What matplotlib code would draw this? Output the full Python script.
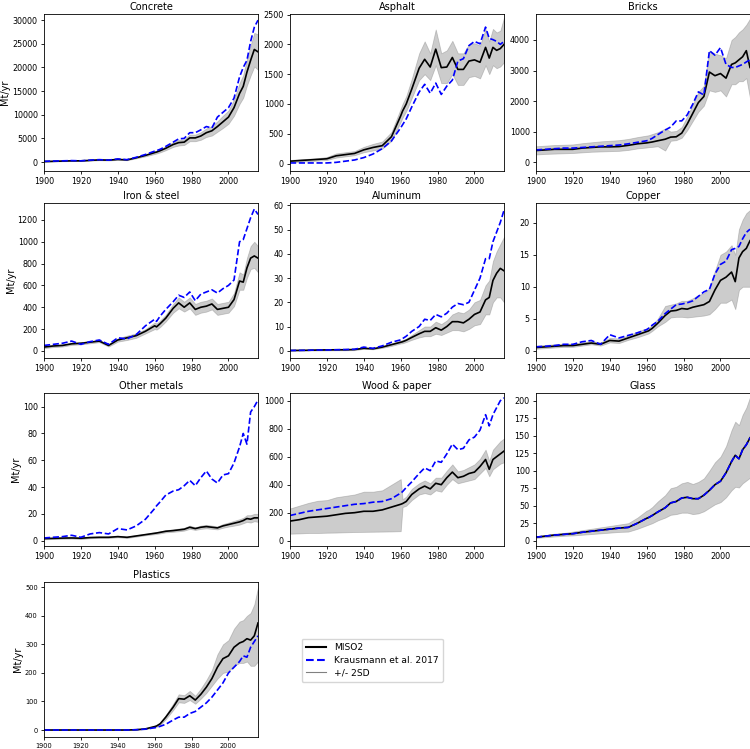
import matplotlib
matplotlib.use('Agg')
import matplotlib.pyplot as plt
from matplotlib.lines import Line2D

# years shared by all series
years = [1900, 1905, 1910, 1915, 1920, 1925, 1930, 1935, 1940, 1945, 1950, 1955,
         1960, 1961, 1963, 1966, 1970, 1973, 1976, 1979, 1982, 1985, 1988, 1991,
         1994, 1997, 2000, 2003, 2006, 2008, 2010, 2012, 2014, 2016]

concrete_miso = [100, 150, 200, 250, 250, 350, 450, 400, 550, 450, 900, 1400, 2000, 2100, 2400, 2900, 3700,
                 4100, 4200, 5100, 5100, 5500, 6200, 6600, 7500, 8500, 9500, 11500, 14500, 16000, 19000,
                 21500, 23800, 23300]
concrete_kr = [150, 200, 250, 300, 250, 400, 500, 400, 650, 500, 1000, 1600, 2300, 2400, 2700, 3300, 4200,
               4900, 5000, 6200, 6200, 6800, 7500, 7200, 9500, 10500, 11500, 13500, 18000, 20000, 21500,
               25500, 28500, 30000]
concrete_lo = [80, 120, 170, 200, 200, 280, 380, 330, 450, 380, 780, 1200, 1700, 1800, 2050, 2500, 3200,
               3500, 3600, 4400, 4400, 4700, 5300, 5600, 6400, 7200, 8100, 9800, 12300, 13600, 16200,
               18300, 20200, 19500]
concrete_hi = [120, 180, 230, 300, 300, 420, 520, 470, 650, 520, 1020, 1600, 2300, 2400, 2750, 3300, 4200,
               4700, 4800, 5800, 5800, 6300, 7100, 7600, 8600, 9800, 10900, 13200, 16700, 18400, 21800,
               24700, 27300, 27000]

asphalt_miso = [40, 50, 60, 70, 80, 130, 150, 170, 230, 270, 300, 450, 800, 880, 1000, 1250, 1600, 1750,
                1620, 1920, 1610, 1620, 1780, 1580, 1580, 1720, 1740, 1700, 1950, 1770, 1950, 1900, 1930, 2000]
asphalt_kr = [10, 10, 10, 10, 10, 20, 40, 60, 100, 160, 250, 380, 600, 650, 750, 950, 1200, 1330, 1180,
              1350, 1160, 1300, 1400, 1720, 1760, 1980, 2050, 2010, 2290, 2100, 2080, 2050, 2000, 2050]
asphalt_lo = [20, 30, 40, 50, 60, 100, 120, 140, 190, 220, 250, 380, 700, 770, 880, 1100, 1400, 1500, 1400,
              1650, 1350, 1350, 1500, 1320, 1320, 1450, 1470, 1430, 1650, 1500, 1650, 1600, 1630, 1700]
asphalt_hi = [60, 70, 80, 90, 110, 170, 190, 210, 280, 330, 370, 530, 920, 1000, 1130, 1420, 1850, 2050,
              1850, 2250, 1850, 1900, 2060, 1850, 1850, 2000, 2020, 1980, 2260, 2050, 2260, 2200, 2230, 2450]

bricks_miso = [380, 400, 420, 420, 420, 460, 480, 500, 500, 510, 550, 600, 630, 640, 660, 700, 750, 820,
               830, 950, 1250, 1600, 1950, 2150, 2950, 2830, 2900, 2750, 3200, 3250, 3350, 3450, 3650, 3100]
bricks_kr = [400, 420, 440, 460, 460, 480, 500, 520, 540, 560, 600, 650, 700, 720, 780, 900, 1050, 1150,
             1350, 1350, 1550, 1900, 2300, 2200, 3650, 3500, 3750, 3200, 3100, 3100, 3150, 3200, 3280, 3350]
bricks_lo = [250, 270, 280, 290, 300, 320, 340, 350, 360, 370, 400, 450, 480, 490, 500, 520, 380, 700,
             720, 800, 1050, 1350, 1650, 1850, 2350, 2300, 2350, 2150, 2550, 2550, 2650, 2650, 2750, 2100]
bricks_hi = [520, 540, 560, 570, 580, 620, 650, 680, 700, 720, 760, 820, 870, 880, 920, 980, 1100, 1000,
             1020, 1150, 1500, 1900, 2300, 2500, 3650, 3550, 3500, 3400, 4000, 4100, 4250, 4350, 4500, 4700]

iron_miso = [35, 45, 50, 65, 70, 80, 90, 50, 100, 120, 140, 180, 230, 220, 250, 300, 390, 440, 400, 440,
             380, 400, 410, 430, 380, 390, 400, 470, 640, 630, 760, 850, 870, 850]
iron_kr = [50, 60, 70, 90, 60, 85, 100, 60, 120, 110, 150, 230, 290, 270, 320, 380, 450, 510, 490, 540,
           460, 520, 540, 560, 530, 570, 600, 650, 1000, 1020, 1120, 1220, 1300, 1250]
iron_lo = [25, 35, 40, 55, 60, 70, 80, 40, 85, 100, 120, 160, 200, 195, 220, 270, 350, 390, 360, 390,
           330, 350, 360, 380, 330, 340, 350, 410, 560, 560, 670, 750, 760, 720]
iron_hi = [45, 55, 60, 75, 80, 90, 100, 60, 115, 140, 160, 200, 260, 250, 280, 330, 430, 490, 450, 490,
           430, 450, 460, 480, 430, 440, 450, 530, 720, 700, 850, 960, 1000, 960]

alu_miso = [0.1, 0.15, 0.2, 0.3, 0.35, 0.4, 0.4, 0.5, 1.0, 0.8, 1.5, 2.5, 3.5, 3.7, 4.3, 5.5, 7, 8, 8,
            9.5, 8.5, 10, 12, 12, 11.5, 13, 15, 16, 21, 22, 29, 32, 34, 33]
alu_kr = [0.1, 0.15, 0.2, 0.3, 0.3, 0.4, 0.5, 0.6, 1.5, 1.0, 2, 3.5, 4.5, 5, 6, 8, 10, 13, 12.5, 15, 14,
          15.5, 18, 19.5, 19, 20, 25, 30, 38, 38, 45, 49, 53, 58]
alu_lo = [0.05, 0.08, 0.1, 0.12, 0.15, 0.2, 0.2, 0.25, 0.8, 0.6, 1.2, 2, 3, 3.1, 3.6, 4.5, 5.5, 6, 6, 7,
          6.5, 7.5, 8.5, 8.5, 8, 9, 10.5, 11, 15, 15, 20, 22, 22, 20]
alu_hi = [0.2, 0.25, 0.35, 0.45, 0.5, 0.6, 0.6, 0.7, 1.3, 1.0, 1.8, 3, 4.2, 4.4, 5, 6.5, 8.5, 10, 10, 12,
          11, 12.5, 15, 16, 15.5, 17, 20, 21, 27, 29, 37, 41, 44, 47]

copper_miso = [0.5, 0.6, 0.7, 0.8, 0.8, 1.0, 1.2, 1.0, 1.6, 1.5, 2.0, 2.5, 3.0, 3.1, 3.5, 4.3, 5.5, 6.2,
               6.3, 6.6, 6.5, 6.8, 7.0, 7.2, 7.7, 9.5, 11, 11.5, 12.3, 10.8, 14.5, 15.5, 16, 17.2]
copper_kr = [0.6, 0.7, 0.8, 1.0, 1.0, 1.4, 1.6, 1.0, 2.5, 2.0, 2.4, 2.8, 3.3, 3.5, 4.0, 4.6, 5.8, 6.5,
             7.2, 7.3, 7.5, 7.8, 8.5, 9.2, 9.6, 12, 13.5, 14, 15.8, 16, 16.3, 17.5, 18.5, 19]
copper_lo = [0.3, 0.4, 0.5, 0.6, 0.6, 0.8, 1.0, 0.8, 1.3, 1.2, 1.7, 2.1, 2.6, 2.7, 3.1, 3.8, 4.5, 5.2,
             5.3, 5.3, 5.2, 5.3, 5.4, 5.5, 5.7, 6.5, 7.5, 7.5, 8, 6.5, 9.5, 10, 10, 10]
copper_hi = [0.8, 0.9, 1.0, 1.1, 1.1, 1.3, 1.5, 1.3, 2.0, 1.9, 2.4, 3, 3.5, 3.6, 4, 5, 7, 7.2, 7.4, 7.8,
             7.8, 8.2, 8.7, 9, 9.8, 12.5, 15, 15.5, 16.5, 15, 19, 20.5, 21.5, 22]

other_miso = [1.5, 1.7, 1.9, 2.0, 1.8, 2.3, 2.5, 2.5, 3.0, 2.5, 3.5, 4.5, 5.5, 5.7, 6.2, 7, 7.5, 8, 8.5,
              10, 9, 10, 10.5, 10, 9.5, 11, 12, 13, 14, 15, 16.5, 16, 17, 17]
other_kr = [2, 2.5, 3, 4, 2.5, 5, 6, 5, 9, 8, 11, 16, 24, 26, 29, 34, 37, 38, 41, 45, 41, 47, 52, 46, 43,
            49, 50, 58, 70, 80, 72, 96, 100, 105]
other_lo = [1, 1.2, 1.4, 1.5, 1.2, 1.8, 2, 2, 2.5, 2, 3, 4, 4.8, 5, 5.4, 6.2, 6.6, 7, 7.5, 8.8, 8, 8.8,
            9.2, 8.8, 8.4, 9.6, 10.5, 11.2, 12, 13, 14, 13.5, 14.5, 14]
other_hi = [2, 2.2, 2.4, 2.6, 2.3, 2.8, 3, 3, 3.6, 3, 4, 5, 6.2, 6.4, 7, 7.8, 8.4, 9, 9.6, 11.2, 10, 11.2,
            11.8, 11.2, 10.6, 12.4, 13.5, 14.8, 16, 17, 19, 19, 20, 20]

wood_miso = [140, 150, 165, 170, 175, 185, 195, 200, 210, 210, 220, 240, 260, 265, 280, 330, 370, 390,
             370, 410, 400, 450, 490, 450, 460, 480, 490, 530, 580, 510, 580, 600, 620, 640]
wood_kr = [180, 195, 210, 220, 230, 240, 250, 260, 265, 275, 280, 300, 340, 350, 380, 420, 480, 520, 500,
           570, 560, 620, 690, 650, 660, 720, 740, 790, 900, 820, 900, 950, 1000, 1020]
wood_lo = [50, 52, 55, 55, 57, 58, 60, 62, 63, 64, 65, 66, 68, 240, 250, 290, 330, 340, 330, 360, 350,
           400, 440, 410, 420, 430, 440, 480, 520, 460, 510, 530, 550, 560]
wood_hi = [230, 250, 270, 285, 290, 310, 320, 330, 350, 350, 360, 400, 440, 295, 315, 370, 410, 430, 410,
           450, 450, 500, 545, 495, 505, 525, 545, 585, 650, 570, 650, 680, 710, 730]

glass_miso = [5, 6.5, 8, 9, 10, 12, 13.5, 15, 16.5, 18, 19, 25, 32, 33, 36, 41, 47, 54, 56, 61, 62, 60,
              60, 65, 72, 80, 85, 97, 113, 122, 117, 130, 137, 147]
glass_kr = [5, 6.5, 8, 9, 10, 12, 13.5, 15, 16.5, 18, 19, 25, 32, 33, 36, 41, 47, 54, 56, 61, 62, 60,
            60, 65, 72, 80, 85, 97, 113, 122, 117, 130, 137, 147]
glass_lo = [4, 5, 6, 7, 7.5, 8.5, 9.5, 10.5, 11.5, 12.5, 13, 17, 22, 23, 25, 29, 33, 37, 38, 40, 40, 38,
            39, 42, 47, 52, 55, 62, 72, 77, 76, 82, 86, 90]
glass_hi = [6, 8, 10, 11, 13, 15, 17, 19, 21, 23, 25, 33, 43, 44, 48, 56, 65, 75, 77, 82, 84, 81, 84, 89,
            100, 112, 120, 135, 158, 170, 165, 180, 190, 205]

plastics_miso = [0, 0, 0, 0, 0, 0, 0, 0, 0, 0, 1, 4, 12, 14, 22, 45, 80, 110, 108, 120, 105, 125, 150,
                 180, 220, 250, 260, 290, 305, 310, 320, 315, 330, 375]
plastics_kr = [0, 0, 0, 0, 0, 0, 0, 0, 0, 0, 1, 3, 8, 9, 13, 20, 35, 45, 45, 58, 65, 80, 95, 115, 140,
               165, 200, 220, 240, 260, 255, 290, 310, 330]
plastics_lo = [0, 0, 0, 0, 0, 0, 0, 0, 0, 0, 1, 3, 9, 11, 18, 38, 70, 97, 95, 105, 92, 110, 130, 155,
               180, 200, 205, 225, 235, 235, 240, 225, 225, 240]
plastics_hi = [0, 0, 0, 0, 0, 0, 0, 0, 0, 0, 1, 5, 15, 17, 26, 52, 92, 125, 122, 137, 120, 145, 175, 210,
               265, 300, 315, 355, 380, 385, 400, 410, 440, 500]

titles = ['Concrete', 'Asphalt', 'Bricks', 'Iron & steel', 'Aluminum', 'Copper',
          'Other metals', 'Wood & paper', 'Glass', 'Plastics']
series = [(concrete_miso, concrete_kr, concrete_lo, concrete_hi),
          (asphalt_miso, asphalt_kr, asphalt_lo, asphalt_hi),
          (bricks_miso, bricks_kr, bricks_lo, bricks_hi),
          (iron_miso, iron_kr, iron_lo, iron_hi),
          (alu_miso, alu_kr, alu_lo, alu_hi),
          (copper_miso, copper_kr, copper_lo, copper_hi),
          (other_miso, other_kr, other_lo, other_hi),
          (wood_miso, wood_kr, wood_lo, wood_hi),
          (glass_miso, glass_kr, glass_lo, glass_hi),
          (plastics_miso, plastics_kr, plastics_lo, plastics_hi)]
ylims = [(-1900, 31300), (-125, 2510), (-290, 4850), (-65, 1355), (-3, 61), (-1.14, 23.1),
         (-4, 110.2), (-38, 1055), (-7.6, 211), (-24.5, 518.6)]
yticks = [range(0, 30001, 5000), range(0, 2501, 500), range(0, 4001, 1000), range(0, 1201, 200),
          range(0, 61, 10), range(0, 21, 5), range(0, 101, 20), range(0, 1001, 200),
          range(0, 201, 25), range(0, 501, 100)]

W, H = 750, 749
col_left = [44, 290, 536]
row_top = [14, 203, 393, 582]
row_bot = [171, 358, 546, 737]
ax_w = 214

fig = plt.figure(figsize=(W / 100, H / 100), dpi=100)

for i in range(10):
    r, c = divmod(i, 3)
    ax = fig.add_axes([col_left[c] / W, 1 - row_bot[r] / H, ax_w / W, (row_bot[r] - row_top[r]) / H])
    miso, kr, lo, hi = series[i]
    ax.fill_between(years, lo, hi, color='grey', alpha=0.4, lw=0.6)
    ax.plot(years, miso, color='black', lw=1.2)
    ax.plot(years, kr, color='blue', lw=1.2, ls='--')
    ax.set_xlim(1900, 2016)
    ax.set_ylim(*ylims[i])
    ax.set_xticks(range(1900, 2001, 20))
    ax.set_yticks(list(yticks[i]))
    ax.set_title(titles[i], fontsize=7, pad=3)
    fs = 4.8 if i == 9 else 5.8
    ax.tick_params(labelsize=fs, length=2.5, width=0.6, pad=2)
    for sp in ax.spines.values():
        sp.set_linewidth(0.6)
    if c == 0:
        ax.set_ylabel('Mt/yr', fontsize=7, labelpad=1.5)

handles = [Line2D([], [], color='black', lw=1.5),
           Line2D([], [], color='blue', lw=1.5, ls='--'),
           Line2D([], [], color='grey', lw=0.8)]
fig.legend(handles, ['MISO2', 'Krausmann et al. 2017', '+/- 2SD'],
           loc='upper left', bbox_to_anchor=(297 / W, 1 - 634 / H), fontsize=6.6,
           handlelength=2.2, frameon=True, borderpad=0.5, labelspacing=0.4)

fig.savefig('out.png', dpi=100)
